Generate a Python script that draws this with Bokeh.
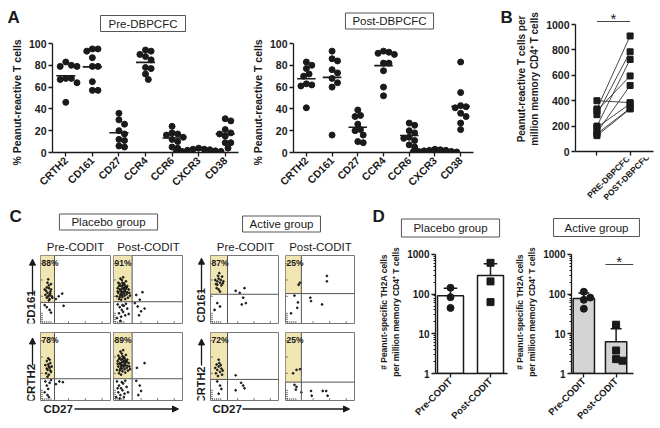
import math
from bokeh.plotting import figure
from bokeh.models import (Range1d, FixedTicker, Label, Span, Arrow, NormalHead,
                          NumeralTickFormatter)
from bokeh.core.properties import value
from bokeh.layouts import row, column
from bokeh.embed import file_html
from bokeh.resources import INLINE

FONT = "Liberation Sans"
INK = "#1a1a1a"
GATE_FILL = "#f1e5b1"

# ---------------- data ----------------
markers = ["CRTH2", "CD161", "CD27", "CCR4", "CCR6", "CXCR3", "CD38"]
a_ticks = [0, 20, 40, 60, 80, 100]

pre_CRTH2 = [83, 79, 79, 80, 68, 67, 68, 64, 46]
pre_CD161 = [95, 93, 95, 87, 79, 79, 65, 57, 57]
pre_CD27 = [36, 30, 26, 20, 17, 12, 11, 6, 5]
pre_CCR4 = [94, 93, 90, 88, 85, 78, 77, 72, 67]
pre_CCR6 = [24, 18, 17, 16, 14, 12, 10, 5, 4]
pre_CXCR3 = [4, 3, 2.5, 2, 1.5, 1, 1, 0.5, 3]
pre_CD38 = [31, 29, 21, 18, 17, 15, 9, 9, 4]

post_CRTH2 = [83, 80, 77, 72, 70, 63, 62, 61, 41]
post_CD161 = [93, 86, 84, 76, 73, 68, 64, 60, 16]
post_CD27 = [39, 34, 33, 26, 21, 20, 16, 10, 9]
post_CCR4 = [93, 92, 91, 90, 82, 82, 75, 60, 52]
post_CCR6 = [27, 25, 20, 18, 14, 13, 11, 7, 5]
post_CXCR3 = [3, 2.5, 2, 1.5, 1, 1, 0.5, 0.5, 2]
post_CD38 = [83, 55, 43, 42, 41, 36, 33, 27, 21]

pre_values = [pre_CRTH2, pre_CD161, pre_CD27, pre_CCR4, pre_CCR6, pre_CXCR3, pre_CD38]
post_values = [post_CRTH2, post_CD161, post_CD27, post_CCR4, post_CCR6, post_CXCR3, post_CD38]

b_labels = ["PRE-DBPCFC", "POST-DBPCFC"]
b_ticks = [0, 200, 400, 600, 800, 1000]
b_pre = [400, 335, 320, 290, 200, 190, 150, 140, 125]
b_post = [385, 910, 595, 785, 725, 375, 520, 340, 335]

d_labels = ["Pre-CODIT", "Post-CODIT"]
d_ticks = [1, 10, 100, 1000]
d_placebo_pre = [145, 84, 45]
d_placebo_post = [617, 210, 63]
d_active_pre = [115, 82, 72, 43]
d_active_post = [17, 3.8, 2.1, 2.3]

# flow cytometry dot plots (x: CD27, y: CD161 / CRTH2, both on a 0-100 display scale)
pp1_x = [8, 10, 12, 14, 11, 9, 13, 15, 12, 7, 16, 10, 14, 12, 6, 17, 11, 13, 9, 15, 26, 31, 22, 9, 13, 6, 33, 15]
pp1_y = [48, 45, 52, 44, 40, 38, 36, 50, 56, 42, 40, 60, 47, 34, 50, 38, 65, 42, 53, 58, 40, 44, 36, 24, 20, 27, 26, 16]
pq1_x = [5, 7, 9, 11, 13, 15, 17, 19, 21, 8, 10, 12, 14, 16, 18, 20, 22, 6, 9, 12, 15, 13, 11, 17, 19, 23,
         7, 10, 14, 16, 12, 10, 14, 16, 13, 11, 18, 9, 20, 24, 6, 15, 8, 12, 17,
         6, 9, 12, 15, 18, 8, 11, 14, 17, 20, 5, 22, 10, 13,
         33, 38, 42, 35, 40, 45, 31, 37]
pq1_y = [40, 45, 50, 55, 60, 52, 47, 43, 38, 36, 42, 47, 52, 57, 62, 55, 50, 52, 58, 64, 44, 39, 35, 36, 53, 45,
         60, 66, 68, 41, 51, 48, 46, 49, 56, 44, 51, 39, 46, 41, 47, 59, 55, 42, 54,
         28, 24, 20, 26, 29, 15, 10, 17, 12, 22, 8, 14, 4, 27,
         42, 35, 46, 25, 18, 22, 30, 12]
pp2_x = [8, 10, 12, 14, 9, 11, 13, 15, 7, 12, 16, 10, 14, 11, 13, 9, 7, 9, 11, 13, 6, 15, 10, 12, 27, 32, 22]
pp2_y = [40, 45, 50, 55, 58, 62, 48, 42, 52, 38, 50, 35, 44, 53, 60, 47, 28, 22, 17, 26, 12, 30, 8, 5, 28, 27, 24]
pq2_x = [5, 7, 9, 11, 13, 15, 17, 19, 21, 8, 10, 12, 14, 16, 18, 20, 22, 6, 9, 12, 15, 13, 11, 17, 19, 23,
         7, 10, 14, 16, 12, 10, 14, 16, 13, 11, 18, 9, 20, 24, 6, 15, 8, 12, 17,
         5, 8, 11, 14, 17, 7, 10, 13, 16, 19, 4, 21, 9, 12, 6, 15,
         33, 38, 40, 36, 45, 34]
pq2_y = [45, 50, 55, 60, 65, 58, 52, 48, 44, 40, 47, 52, 57, 62, 67, 60, 55, 58, 63, 69, 50, 43, 38, 41, 57, 50,
         66, 72, 74, 46, 56, 53, 51, 54, 61, 49, 56, 44, 51, 46, 54, 64, 61, 47, 59,
         28, 22, 18, 25, 29, 12, 8, 15, 10, 20, 5, 12, 3, 27, 18, 5,
         29, 22, 14, 8, 55, 48]
ap1_x = [8, 10, 12, 14, 16, 11, 13, 9, 15, 17, 7, 18, 12, 14, 19, 10, 37, 43, 50, 48, 46, 52, 10, 14, 6]
ap1_y = [58, 62, 66, 60, 56, 70, 74, 52, 64, 69, 64, 59, 50, 47, 62, 57, 48, 45, 52, 38, 28, 30, 30, 25, 20]
aq1_x = [19, 21, 60, 60, 13, 36, 37, 53, 17, 18, 8]
aq1_y = [57, 60, 70, 62, 41, 38, 33, 28, 23, 31, 15]
ap2_x = [8, 10, 12, 14, 16, 9, 13, 17, 11, 15, 7, 18, 12, 37, 45, 50, 48, 37, 10, 14, 16, 12]
ap2_y = [40, 45, 50, 42, 47, 53, 55, 38, 36, 52, 48, 44, 60, 37, 26, 18, 22, 15, 28, 22, 17, 10]
aq2_x = [11, 16, 21, 13, 16, 15, 23, 37, 54, 59, 61, 38]
aq2_y = [40, 45, 46, 23, 20, 16, 12, 14, 14, 14, 7, 7]

flow_gates = {"pp1": (20, 31), "pq1": (27, 32), "pp2": (20, 32), "pq2": (27, 32),
              "ap1": (25, 43), "aq1": (23, 44), "ap2": (25, 31), "aq2": (23, 27)}
flow_pcts = {"pp1": "88%", "pq1": "91%", "pp2": "78%", "pq2": "89%",
             "ap1": "87%", "aq1": "25%", "ap2": "72%", "aq2": "25%"}
flow_ticks = [3, 6, 9, 12, 15, 40, 64, 88]


# ---------------- helpers ----------------
class Geo:
    """Page-pixel geometry of one figure; converts page pixels to data units."""
    def __init__(self, cx, cy, w, h, l, r, t, b, xr, yr, ylog=False):
        self.cx, self.cy, self.w, self.h = cx, cy, w, h
        self.l, self.r, self.t, self.b = l, r, t, b
        self.xr, self.yr, self.ylog = xr, yr, ylog
        self.fx0, self.fx1 = cx + l, cx + w - r
        self.fy0, self.fy1 = cy + t, cy + h - b

    def X(self, px):
        return self.xr[0] + (px - self.fx0) / (self.fx1 - self.fx0) * (self.xr[1] - self.xr[0])

    def px(self, x):
        return self.fx0 + (x - self.xr[0]) * self.ppx()

    def Y(self, py):
        f = (self.fy1 - py) / (self.fy1 - self.fy0)
        if self.ylog:
            a, b = math.log10(self.yr[0]), math.log10(self.yr[1])
            return 10 ** (a + f * (b - a))
        return self.yr[0] + f * (self.yr[1] - self.yr[0])

    def ppx(self):
        return (self.fx1 - self.fx0) / (self.xr[1] - self.xr[0])

    def ypix(self, v):
        if self.ylog:
            a, b = math.log10(self.yr[0]), math.log10(self.yr[1])
            return (math.log10(v) - a) / (b - a) * (self.fy1 - self.fy0)
        return (v - self.yr[0]) / (self.yr[1] - self.yr[0]) * (self.fy1 - self.fy0)

    def fig(self, axes=True):
        kw = dict(width=self.w, height=self.h, x_range=Range1d(*self.xr), y_range=Range1d(*self.yr),
                  min_border_left=self.l, min_border_right=self.r,
                  min_border_top=self.t, min_border_bottom=self.b,
                  output_backend="svg", toolbar_location=None, title=None)
        if not axes:
            kw.update(x_axis_location=None, y_axis_location=None)
        elif self.ylog:
            kw.update(y_axis_type="log")
        p = figure(**kw)
        p.grid.visible = False
        p.outline_line_color = None
        p.background_fill_color = "white"
        p.border_fill_color = "white"
        return p


def helper_geo(cx, cy, w, h):
    return Geo(cx, cy, w, h, 0, 0, 0, 0, (0, w), (0, h))


def txt(p, g, px, py, s, size=11, bold=False, align="left", base="top", angle=0.0, pad=None):
    lab = Label(x=g.X(px), y=g.Y(py), text=s, text_font=FONT, text_font_size=f"{size}px",
                text_font_style="bold" if bold else "normal", text_color=INK,
                text_align=align, text_baseline=base, angle=angle)
    if pad is not None:
        lab.border_line_color = "#555555"
        lab.border_line_width = 1
        lab.background_fill_color = "white"
        lab.padding = pad
    p.add_layout(lab)


def star(p, x, y):
    p.text(x=[x], y=[y], text=["*"], text_font=value(FONT), text_font_size="15px",
           text_align="center", text_baseline="middle", text_color=INK)


def arrow(p, g, x0, y0, x1, y1):
    p.add_layout(Arrow(end=NormalHead(size=6, fill_color=INK, line_color=INK, line_width=1),
                       x_start=g.X(x0), y_start=g.Y(y0), x_end=g.X(x1), y_end=g.Y(y1),
                       line_color=INK, line_width=1.3))


def style(ax, size=10.5, bold=True, label_size=10.5):
    ax.axis_line_color = INK
    ax.axis_line_width = 1.3
    ax.major_tick_line_color = INK
    ax.major_tick_line_width = 1.3
    ax.major_tick_in = 0
    ax.major_tick_out = 4
    ax.minor_tick_line_color = None
    ax.major_label_text_font = FONT
    ax.major_label_text_font_size = f"{size}px"
    ax.major_label_text_font_style = "bold" if bold else "normal"
    ax.major_label_text_color = INK
    ax.major_label_standoff = 2
    ax.axis_label_text_font = FONT
    ax.axis_label_text_font_size = f"{label_size}px"
    ax.axis_label_text_font_style = "bold"
    ax.axis_label_text_color = INK
    ax.axis_label_standoff = 3


def swarm(vals, g, d, ppx):
    """Horizontal offsets (data units) so that dots of similar value do not overlap."""
    placed, offs = [], [0.0] * len(vals)
    for i in sorted(range(len(vals)), key=lambda k: -vals[k]):
        y = g.ypix(vals[i])
        chosen = 0.0
        for k in range(0, 40):
            cands = [0.0] if k == 0 else [k * d * 0.5, -k * d * 0.5]
            ok = [c for c in cands if all((c - px) ** 2 + (y - py) ** 2 >= d * d for px, py in placed)]
            if ok:
                chosen = ok[0]
                break
        placed.append((chosen, y))
        offs[i] = chosen / ppx
    return offs


# ---------------- top header (A letter, title boxes) ----------------
gTh = helper_geo(0, 0, 480, 36)
pTh = gTh.fig(axes=False)
txt(pTh, gTh, 7, 7, "A", 17, True)
txt(pTh, gTh, 142.5, 23, "Pre-DBPCFC", 11.5, False, "center", "middle", pad=(8, 2))
txt(pTh, gTh, 389, 20.5, "Post-DBPCFC", 11.5, False, "center", "middle", pad=(7, 2))


# ---------------- panel A ----------------
def panel_a(g, values):
    p = g.fig()
    xs, ys, mx0, mx1, my = [], [], [], [], []
    for i, v in enumerate(values):
        offs = swarm(v, g, 5.6, g.ppx())
        xs += [i + 0.5 + o for o in offs]
        ys += list(v)
        m = sum(v) / len(v)
        mx0.append(i + 0.5 - 0.36)
        mx1.append(i + 0.5 + 0.36)
        my.append(m)
    p.scatter(xs, ys, size=6, color=INK, marker="circle")
    p.segment(x0=mx0, y0=my, x1=mx1, y1=my, line_color=INK, line_width=1.6)
    p.xaxis.ticker = FixedTicker(ticks=[i + 0.5 for i in range(len(markers))])
    p.xaxis.major_label_overrides = {i + 0.5: m for i, m in enumerate(markers)}
    p.xaxis.major_label_orientation = math.pi / 4
    p.yaxis.ticker = FixedTicker(ticks=a_ticks)
    p.yaxis.axis_label = "%    Peanut-reactive T cells"
    for ax in p.axis:
        style(ax)
    return p


gA1 = Geo(0, 36, 248, 169, 52, 10, 6, 53, (0, 7), (0, 100))
gA2 = Geo(248, 36, 232, 169, 40, 7, 7, 53, (0, 7), (0, 100))
pA1 = panel_a(gA1, pre_values)
pA2 = panel_a(gA2, post_values)

# ---------------- panel B ----------------
gBl = helper_geo(480, 0, 32, 205)
pBl = gBl.fig(axes=False)
txt(pBl, gBl, 500, 7, "B", 17, True)

gB = Geo(512, 0, 148, 157, 61, 7, 6, 6, (-0.647, 1.706), (0, 1142))
pB = gB.fig()
n = len(b_pre)
pB.segment(x0=[0] * n, y0=b_pre, x1=[1] * n, y1=b_post, line_color="#333333", line_width=0.9)
pB.scatter([0] * n, b_pre, marker="square", size=6, color=INK)
pB.scatter([1] * n, b_post, marker="square", size=6, color=INK)
pB.segment(x0=[0], y0=[gB.Y(21)], x1=[1], y1=[gB.Y(21)], line_color="#444444", line_width=1)
star(pB, 0.5, gB.Y(18))
pB.xaxis.ticker = FixedTicker(ticks=[0, 1])
pB.xaxis.major_label_overrides = {0: "", 1: ""}
pB.yaxis.ticker = FixedTicker(ticks=b_ticks)
pB.yaxis.bounds = (0, 1000)
pB.yaxis.axis_label = "Peanut-reactive T cells per\nmillion memory CD4\u207a T cells"
for ax in pB.axis:
    style(ax, label_size=10)
# the category names are set in the strip below the plot, centred under the axis ticks
pB.xaxis.major_label_text_alpha = 0
pB.xaxis.major_label_standoff = 0

gBx = helper_geo(512, 157, 148, 48)
pBx = gBx.fig(axes=False)
pBx.text(x=[gBx.X(gB.px(t) - 20.5) for t in range(len(b_labels))],
         y=[gBx.Y(176.5)] * len(b_labels), text=b_labels,
         text_font=value(FONT), text_font_size="8.5px", text_font_style="bold",
         text_color=INK, text_align="center", text_baseline="middle", angle=math.pi / 4)

blockB = column(pB, pBx)


# ---------------- panel C ----------------
def flow(g, xs, ys, key):
    p = g.fig(axes=False)
    p.outline_line_color = "#777777"
    p.outline_line_width = 1
    gx, gy = flow_gates[key]
    p.quad(left=[0], right=[gx], bottom=[gy], top=[100], fill_color=GATE_FILL, line_color=None)
    p.add_layout(Span(location=gx, dimension="height", line_color="#555555", line_width=1))
    p.add_layout(Span(location=gy, dimension="width", line_color="#555555", line_width=1))
    tk = flow_ticks
    p.segment(x0=tk, y0=[0] * len(tk), x1=tk, y1=[3.5] * len(tk), line_color="#555555", line_width=0.8)
    p.segment(x0=[0] * len(tk), y0=tk, x1=[3.5] * len(tk), y1=tk, line_color="#555555", line_width=0.8)
    p.scatter(xs, ys, size=1.8, color=INK, marker="circle")
    p.add_layout(Label(x=1.5, y=97, text=flow_pcts[key], text_font=FONT, text_font_size="8.5px",
                       text_font_style="bold", text_color=INK, text_baseline="top"))
    return p


gCh = helper_geo(0, 205, 356, 48)
pCh = gCh.fig(axes=False)
txt(pCh, gCh, 9, 206, "C", 17, True)
txt(pCh, gCh, 108, 221.5, "Placebo group", 11.5, False, "center", "middle", pad=(12, 2))
txt(pCh, gCh, 281, 223.5, "Active group", 11.5, False, "center", "middle", pad=(7, 2))
for cxp, s in [(75, "Pre-CODIT"), (148, "Post-CODIT"), (245, "Pre-CODIT"), (320, "Post-CODIT")]:
    txt(pCh, gCh, cxp, 246, s, 11.5, False, "center", "middle")

flow_rows = []
for (cy, h, t, b, ylab, yc, a0, a1, panels) in [
        (253, 75, 2, 5, "CD161", (311, 308), (297, 294), (257, 256),
         [(pp1_x, pp1_y, "pp1"), (pq1_x, pq1_y, "pq1"), (ap1_x, ap1_y, "ap1"), (aq1_x, aq1_y, "aq1")]),
        (328, 74, 4, 2, "CRTH2", (383, 385), (364, 364), (334, 335),
         [(pp2_x, pp2_y, "pp2"), (pq2_x, pq2_y, "pq2"), (ap2_x, ap2_y, "ap2"), (aq2_x, aq2_y, "aq2")])]:
    gl = helper_geo(0, cy, 39, h)
    pl = gl.fig(axes=False)
    txt(pl, gl, 30, yc[0], ylab, 11.5, True, "center", "middle", angle=math.pi / 2)
    arrow(pl, gl, 32, a0[0], 32, a1[0])
    ga = helper_geo(185, cy, 23, h)
    pa = ga.fig(axes=False)
    txt(pa, ga, 200, yc[1], ylab, 11, True, "center", "middle", angle=math.pi / 2)
    arrow(pa, ga, 201, a0[1], 201, a1[1])
    f1 = flow(Geo(39, cy, 72, h, 1, 1, t, b, (0, 100), (0, 100)), *panels[0])
    f2 = flow(Geo(111, cy, 74, h, 2, 3, t, b, (0, 100), (0, 100)), *panels[1])
    f3 = flow(Geo(208, cy, 73, h, 2, 3, t, b, (0, 100), (0, 100)), *panels[2])
    f4 = flow(Geo(281, cy, 75, h, 4, 2, t, b, (0, 100), (0, 100)), *panels[3])
    flow_rows.append(row(pl, f1, f2, pa, f3, f4))

gCf = helper_geo(0, 402, 356, 26)
pCf = gCf.fig(axes=False)
txt(pCf, gCf, 43, 408.5, "CD27", 11.5, True, "left", "middle")
arrow(pCf, gCf, 74, 408.5, 178, 408.5)
txt(pCf, gCf, 212, 408.5, "CD27", 11.5, True, "left", "middle")
arrow(pCf, gCf, 242, 408.5, 349, 408.5)

blockC = column(pCh, flow_rows[0], flow_rows[1], pCf)


# ---------------- panel D ----------------
def mean(v):
    return sum(v) / len(v)


def sd(v):
    m = mean(v)
    return math.sqrt(sum((x - m) ** 2 for x in v) / (len(v) - 1))


def panel_d(g, pre, post, fill, bw, cap):
    p = g.fig()
    means = [mean(pre), mean(post)]
    tops = [mean(pre) + sd(pre), mean(post) + sd(post)]
    p.vbar(x=[1, 2], top=means, bottom=1, width=bw, fill_color=fill, line_color=INK, line_width=1.5)
    p.segment(x0=[1, 2], y0=means, x1=[1, 2], y1=tops, line_color=INK, line_width=1.5)
    p.segment(x0=[1 - cap, 2 - cap], y0=tops, x1=[1 + cap, 2 + cap], y1=tops, line_color=INK, line_width=1.5)
    o1 = swarm(pre, g, 7.5, g.ppx())
    o2 = swarm(post, g, 7.5, g.ppx())
    p.scatter([1 + o for o in o1], pre, marker="circle", size=7, color=INK)
    p.scatter([2 + o for o in o2], post, marker="square", size=7, color=INK)
    p.xaxis.ticker = FixedTicker(ticks=[1, 2])
    p.xaxis.major_label_overrides = {i + 1: s for i, s in enumerate(d_labels)}
    p.xaxis.major_label_orientation = math.pi / 4
    p.yaxis.ticker = FixedTicker(ticks=d_ticks,
                                 minor_ticks=[k * 10 ** e for e in range(3) for k in range(2, 10)])
    p.yaxis.formatter = NumeralTickFormatter(format="0")
    p.yaxis.bounds = (1, 1000)
    p.yaxis.axis_label = "# Peanut-specific TH2A cells\nper million memory CD4\u207a T cells"
    for ax in p.axis:
        style(ax, size=10, label_size=8.5)
    p.xaxis.major_label_text_font_size = "9.5px"
    p.yaxis.minor_tick_line_color = INK
    p.yaxis.minor_tick_out = 2
    p.yaxis.minor_tick_in = 0
    return p


gDh = helper_geo(356, 205, 304, 35)
pDh = gDh.fig(axes=False)
txt(pDh, gDh, 372, 206, "D", 17, True)
txt(pDh, gDh, 450, 227.5, "Placebo group", 11.5, False, "center", "middle", pad=(12, 3))
txt(pDh, gDh, 596, 227, "Active group", 11.5, False, "center", "middle", pad=(11, 3))

d_top = 10 ** (3 + 4 / 39.7)
gD1 = Geo(356, 240, 156, 188, 79, 5, 10, 55, (0.625, 2.425), (1, d_top), ylog=True)
gD2 = Geo(512, 240, 148, 188, 48, 27, 10, 55, (0.618, 2.539), (1, d_top), ylog=True)
pD1 = panel_d(gD1, d_placebo_pre, d_placebo_post, "white", 0.65, 0.17)
pD2 = panel_d(gD2, d_active_pre, d_active_post, "#d4d4d4", 0.66, 0.17)
pD2.segment(x0=[gD2.X(600)], y0=[gD2.Y(264)], x1=[gD2.X(633)], y1=[gD2.Y(264)],
            line_color="#444444", line_width=1)
star(pD2, gD2.X(616), gD2.Y(261))

blockD = column(pDh, row(pD1, pD2))

layout = column(row(column(pTh, row(pA1, pA2)), pBl, blockB), row(blockC, blockD))
open("out.html", "w").write(file_html(layout, INLINE, "Peanut-reactive T cells"))
